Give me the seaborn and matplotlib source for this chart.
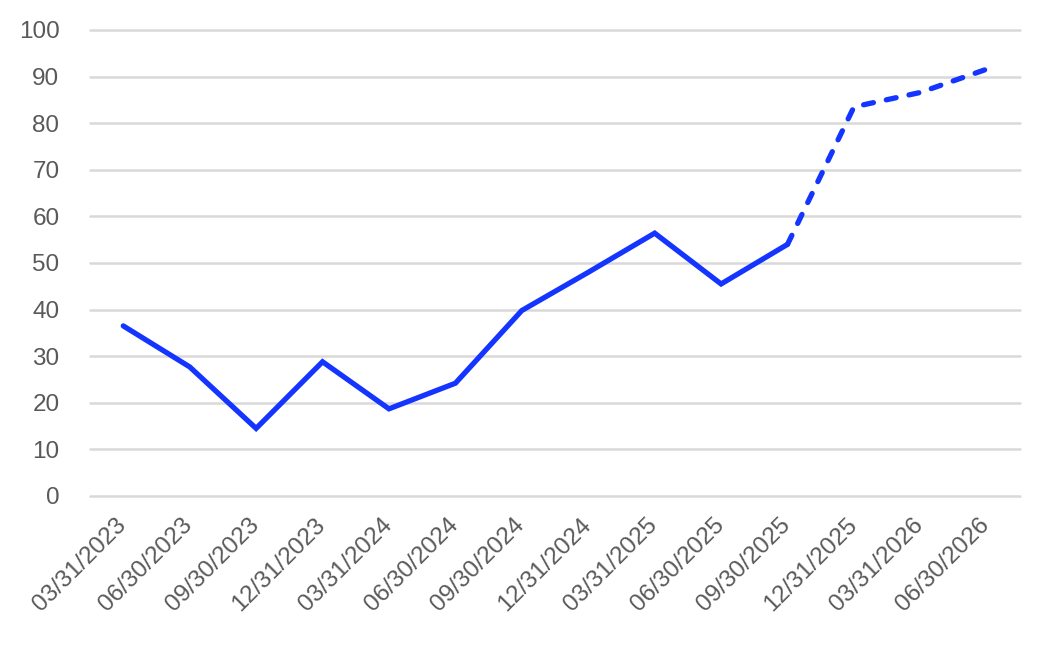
"""
Quarterly series with forecast tail (dashed).
"""

import matplotlib
matplotlib.use("Agg")
import matplotlib.pyplot as plt
import matplotlib.transforms as mtransforms
import seaborn as sns
import pandas as pd

# ---------- DATA ----------
dates = ["03/31/2023", "06/30/2023", "09/30/2023", "12/31/2023",
         "03/31/2024", "06/30/2024", "09/30/2024", "12/31/2024",
         "03/31/2025", "06/30/2025", "09/30/2025", "12/31/2025",
         "03/31/2026", "06/30/2026"]
values = [36.5, 27.7, 14.5, 28.8, 18.7, 24.2, 39.8, 48.0,
          56.4, 45.5, 54.0, 83.5, 86.6, 91.6]
last_actual = "09/30/2025"

df = pd.DataFrame({"date": dates, "value": values})
df["pos"] = range(len(df))
split = dates.index(last_actual)
actual = df.iloc[:split + 1]
forecast = df.iloc[split:]

# ---------- STYLE ----------
sns.set_theme(style="white")
plt.rcParams["font.family"] = ["Liberation Sans", "DejaVu Sans"]
line_color = "#1434ff"
text_color = "#595959"

fig = plt.figure(figsize=(10.52, 6.52), dpi=100)
ax = fig.add_axes([0.0856, 0.2393, 0.8840, 0.7147])

sns.lineplot(data=actual, x="pos", y="value", ax=ax, color=line_color,
             linewidth=3.8, solid_capstyle="round", solid_joinstyle="miter")
sns.lineplot(data=forecast, x="pos", y="value", ax=ax, color=line_color,
             linewidth=3.8, dashes=False, linestyle=(0, (1.9, 2.5)),
             dash_capstyle="round")

# ---------- AXES ----------
ax.set_xlim(-0.5, len(dates) - 0.5)
ax.set_ylim(0, 100)
ax.set_yticks(range(0, 101, 10))
ax.set_xticks(df["pos"])
ax.set_xticklabels(dates, rotation=45, ha="right", rotation_mode="anchor")
ax.tick_params(axis="both", labelsize=17.5, labelcolor=text_color, length=0)
ax.tick_params(axis="y", pad=22)
ax.tick_params(axis="x", pad=13)
shift = mtransforms.ScaledTranslation(-6 / 72, 0, fig.dpi_scale_trans)
for lab in ax.get_xticklabels():
    lab.set_transform(lab.get_transform() + shift)
ax.yaxis.grid(True, color="#d9d9d9", linewidth=1.8)
for gl in ax.get_ygridlines():
    gl.set_clip_on(False)
ax.set_axisbelow(True)
for s in ax.spines.values():
    s.set_visible(False)
ax.set_xlabel("")
ax.set_ylabel("")

fig.savefig("out.png", dpi=100)
plt.close(fig)
